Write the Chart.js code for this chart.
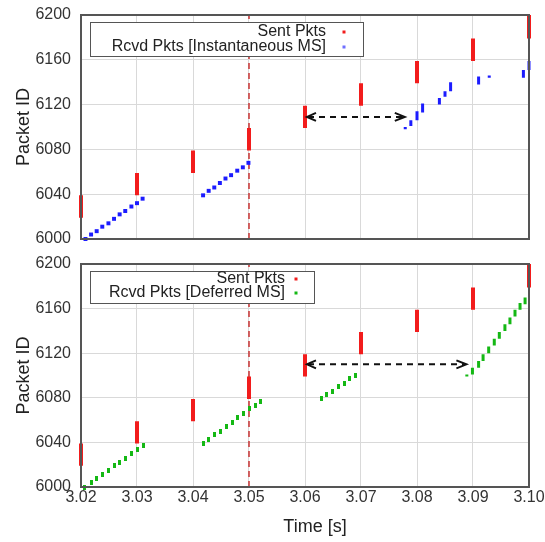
<!DOCTYPE html>
<html>
<head>
<meta charset="utf-8">
<script src="https://cdn.jsdelivr.net/npm/chart.js@4/dist/chart.umd.min.js"></script>
<style>
  body { margin: 0; background: #fff; }
  #wrap { position: relative; width: 545px; height: 542px; }
  canvas { display: block; }
  #xTitle {
    position: absolute; left: 0; top: 516px; width: 630px;
    text-align: center; line-height: 22px;
    font: 18px "Liberation Sans", Arial, sans-serif; color: #222;
  }
</style>
</head>
<body>
<div id="wrap">
  <canvas id="topChart" width="545" height="250"></canvas>
  <canvas id="bottomChart" width="545" height="292"></canvas>
  <div id="xTitle">Time [s]</div>
</div>
<script>
// === DADOS ===
const xTicks = [3.02, 3.03, 3.04, 3.05, 3.06, 3.07, 3.08, 3.09, 3.10];
const yTicks = [6000, 6040, 6080, 6120, 6160, 6200];

// rajadas enviadas (uma barra por instante)
const sentTime = [3.02, 3.03, 3.04, 3.05, 3.06, 3.07, 3.08, 3.09, 3.10];
const sentFrom = [6019, 6039, 6059, 6079, 6099, 6119, 6139, 6159, 6179];
const sentTo   = [6039, 6059, 6079, 6099, 6119, 6139, 6159, 6179, 6200];

// instante do MS (linha tracejada vermelha)
const msTime = [3.05];

// painel de cima: recebidos [Instantaneous MS]
const instTime = [3.0208, 3.0218, 3.0228, 3.0238, 3.0249, 3.0259, 3.0269, 3.0279, 3.0290, 3.0300, 3.0310,
                  3.0418, 3.0428, 3.0438, 3.0448, 3.0458, 3.0468, 3.0479, 3.0489, 3.0499];
const instId   = [6000, 6004, 6007, 6011, 6014, 6018, 6022, 6025, 6029, 6032, 6036,
                  6039, 6043, 6046, 6050, 6054, 6057, 6061, 6064, 6068];
const instBurstTime = [3.0779, 3.0789, 3.0800, 3.0810, 3.0840, 3.0850, 3.0860, 3.0910, 3.0929, 3.0990, 3.1000];
const instBurstFrom = [6098, 6101, 6106, 6113, 6120, 6127, 6132, 6138, 6144, 6144, 6151];
const instBurstTo   = [6100, 6106, 6114, 6121, 6126, 6132, 6140, 6145, 6146, 6151, 6159];
const instGap = [3.060, 3.078];
const instGapId = 6109;

// painel de baixo: recebidos [Deferred MS]
const defTime = [3.0207, 3.0218, 3.0228, 3.0238, 3.0249, 3.0259, 3.0269, 3.0280, 3.0290, 3.0300, 3.0311,
                 3.0418, 3.0428, 3.0439, 3.0449, 3.0459, 3.0470, 3.0480, 3.0490, 3.0500, 3.0511, 3.0521,
                 3.0629, 3.0639, 3.0649, 3.0660, 3.0670, 3.0680, 3.0691];
const defId   = [6000, 6004, 6008, 6011, 6015, 6019, 6022, 6026, 6030, 6034, 6037,
                 6039, 6043, 6047, 6050, 6054, 6058, 6062, 6066, 6070, 6073, 6077,
                 6079, 6083, 6086, 6090, 6093, 6097, 6100];
const defBurstTime = [3.0889, 3.0899, 3.0910, 3.0918, 3.0928, 3.0938, 3.0947, 3.0957, 3.0966, 3.0975, 3.0984, 3.0993, 3.1002];
const defBurstFrom = [6099, 6101, 6107, 6113, 6120, 6127, 6133, 6140, 6146, 6153, 6159, 6164, 6168];
const defBurstTo   = [6101, 6107, 6113, 6119, 6126, 6133, 6139, 6146, 6152, 6159, 6165, 6170, 6174];
const defGap = [3.060, 3.089];
const defGapId = 6110;

const legendTop = ['Sent Pkts', 'Rcvd Pkts [Instantaneous MS]'];
const legendBottom = ['Sent Pkts', 'Rcvd Pkts [Deferred MS]'];

// === ESTILO ===
const FONT = '"Liberation Sans", Arial, sans-serif';
const RED = '#f21c1c';
const BLUE = '#1c1cff';
const GREEN = '#14b814';

// marcador verde alongado (3x5), como no original
function marcaVerde() {
    const c = document.createElement('canvas');
    c.width = 3; c.height = 5;
    const g = c.getContext('2d');
    g.fillStyle = GREEN;
    g.fillRect(0, 0, 3, 5);
    return c;
}

// segmentos verticais (t, de, ate) -> linha com buracos
function segmentos(tempos, de, ate) {
    return tempos.flatMap((t, i) => [{ x: t, y: de[i] }, { x: t, y: ate[i] }, { x: t, y: null }]);
}

function pontos(tempos, ids) {
    return tempos.map((t, i) => ({ x: t, y: ids[i] }));
}

// moldura do grafico
const framePlugin = {
    id: 'frame',
    afterDatasetsDraw(chart) {
        const { ctx, chartArea: a } = chart;
        ctx.save();
        ctx.strokeStyle = '#555';
        ctx.lineWidth = 2;
        ctx.strokeRect(a.left, a.top, a.right - a.left, a.bottom - a.top);
        ctx.restore();
    }
};

// seta dupla tracejada
function gapArrow(gap, id) {
    return {
        id: 'gapArrow',
        afterDatasetsDraw(chart) {
            const ctx = chart.ctx;
            const x0 = chart.scales.x.getPixelForValue(gap[0]);
            const x1 = chart.scales.x.getPixelForValue(gap[1]);
            const py = chart.scales.y.getPixelForValue(id);
            ctx.save();
            ctx.strokeStyle = '#111';
            ctx.lineWidth = 2;
            ctx.setLineDash([6, 5]);
            ctx.beginPath();
            ctx.moveTo(x0 + 3, py);
            ctx.lineTo(x1 - 3, py);
            ctx.stroke();
            ctx.setLineDash([]);
            ctx.beginPath();
            ctx.moveTo(x0 + 11, py - 4);
            ctx.lineTo(x0 + 2, py);
            ctx.lineTo(x0 + 11, py + 4);
            ctx.moveTo(x1 - 11, py - 4);
            ctx.lineTo(x1 - 1, py);
            ctx.lineTo(x1 - 11, py + 4);
            ctx.stroke();
            ctx.restore();
        }
    };
}

// legenda em caixa, estilo gnuplot
function boxLegend(box, textos, cores) {
    return {
        id: 'boxLegend',
        afterDraw(chart) {
            const ctx = chart.ctx;
            ctx.save();
            ctx.fillStyle = '#fff';
            ctx.fillRect(box.x, box.y, box.w, box.h);
            ctx.strokeStyle = '#555';
            ctx.lineWidth = 1;
            ctx.strokeRect(box.x + 0.5, box.y + 0.5, box.w, box.h);
            ctx.font = '16px ' + FONT;
            ctx.textAlign = 'right';
            ctx.textBaseline = 'middle';
            textos.forEach((txt, i) => {
                const ry = box.rows[i];
                ctx.fillStyle = '#222';
                ctx.fillText(txt, box.textRight, ry);
                ctx.fillStyle = cores[i];
                ctx.fillRect(box.markX - 1.5, ry - 1.5, 3, 3);
            });
            ctx.restore();
        }
    };
}

function criarPainel(canvasId, cfg) {
    const datasets = [
        {
            type: 'line', data: segmentos(sentTime, sentFrom, sentTo),
            borderColor: RED, borderWidth: 4, borderCapStyle: 'butt',
            pointRadius: 0, spanGaps: false, clip: false
        },
        {
            type: 'scatter', data: pontos(cfg.rcvdTime, cfg.rcvdId),
            pointStyle: cfg.pointStyle, pointRadius: 2.8, borderWidth: 0,
            backgroundColor: cfg.color, clip: false
        },
        {
            type: 'line', data: segmentos(cfg.burstTime, cfg.burstFrom, cfg.burstTo),
            borderColor: cfg.color, borderWidth: 3, borderCapStyle: 'butt',
            pointRadius: 0, spanGaps: false, clip: false
        },
        {
            type: 'line', data: [{ x: msTime[0], y: yTicks[0] }, { x: msTime[0], y: yTicks[yTicks.length - 1] }],
            borderColor: '#c83232', borderWidth: 1.5, borderDash: [6, 4],
            pointRadius: 0
        }
    ];

    return new Chart(document.getElementById(canvasId), {
        type: 'scatter',
        data: { datasets },
        options: {
            responsive: false,
            animation: false,
            events: [],
            layout: { padding: cfg.padding },
            plugins: { legend: { display: false }, tooltip: { enabled: false } },
            scales: {
                x: {
                    type: 'linear', min: xTicks[0], max: xTicks[xTicks.length - 1], offset: false,
                    afterBuildTicks: s => { s.ticks = xTicks.map(v => ({ value: v })); },
                    afterFit: s => {
                        s.height = cfg.xHeight;
                        s.paddingLeft = 0; s.paddingRight = 0;
                    },
                    grid: { color: '#d9d9d9', drawTicks: false },
                    border: { display: false },
                    ticks: {
                        display: cfg.showX, padding: 1, color: '#333', maxRotation: 0,
                        font: { size: 16, family: FONT },
                        callback: v => Number(v).toFixed(2)
                    }
                },
                y: {
                    type: 'linear', min: yTicks[0], max: yTicks[yTicks.length - 1],
                    afterBuildTicks: s => { s.ticks = yTicks.map(v => ({ value: v })); },
                    afterFit: s => {
                        s.width = 81;
                        s.paddingTop = 0; s.paddingBottom = 0;
                    },
                    grid: { color: '#d9d9d9', drawTicks: false },
                    border: { display: false },
                    ticks: {
                        padding: 10, color: '#333',
                        font: { size: 16, family: FONT },
                        callback: v => String(v)
                    },
                    title: {
                        display: true, text: 'Packet ID', color: '#222',
                        font: { size: 18, family: FONT },
                        padding: { top: 13, bottom: 0 }
                    }
                }
            }
        },
        plugins: [framePlugin, gapArrow(cfg.gap, cfg.gapId), boxLegend(cfg.legendBox, cfg.legend, [RED, cfg.markColor])]
    });
}

criarPainel('topChart', {
    rcvdTime: instTime, rcvdId: instId,
    burstTime: instBurstTime, burstFrom: instBurstFrom, burstTo: instBurstTo,
    color: BLUE, markColor: '#6f6fff', pointStyle: 'rect',
    gap: instGap, gapId: instGapId,
    legend: legendTop,
    legendBox: { x: 90, y: 22, w: 273, h: 34, textRight: 326, markX: 344, rows: [32, 47] },
    padding: { top: 15, right: 16, bottom: 11, left: 0 },
    xHeight: 0, showX: false
});

criarPainel('bottomChart', {
    rcvdTime: defTime, rcvdId: defId,
    burstTime: defBurstTime, burstFrom: defBurstFrom, burstTo: defBurstTo,
    color: GREEN, markColor: GREEN, pointStyle: marcaVerde(),
    gap: defGap, gapId: defGapId,
    legend: legendBottom,
    legendBox: { x: 90, y: 21, w: 224, h: 32, textRight: 285, markX: 296, rows: [29, 43] },
    padding: { top: 14, right: 16, bottom: 0, left: 0 },
    xHeight: 55, showX: true
});
</script>
</body>
</html>
